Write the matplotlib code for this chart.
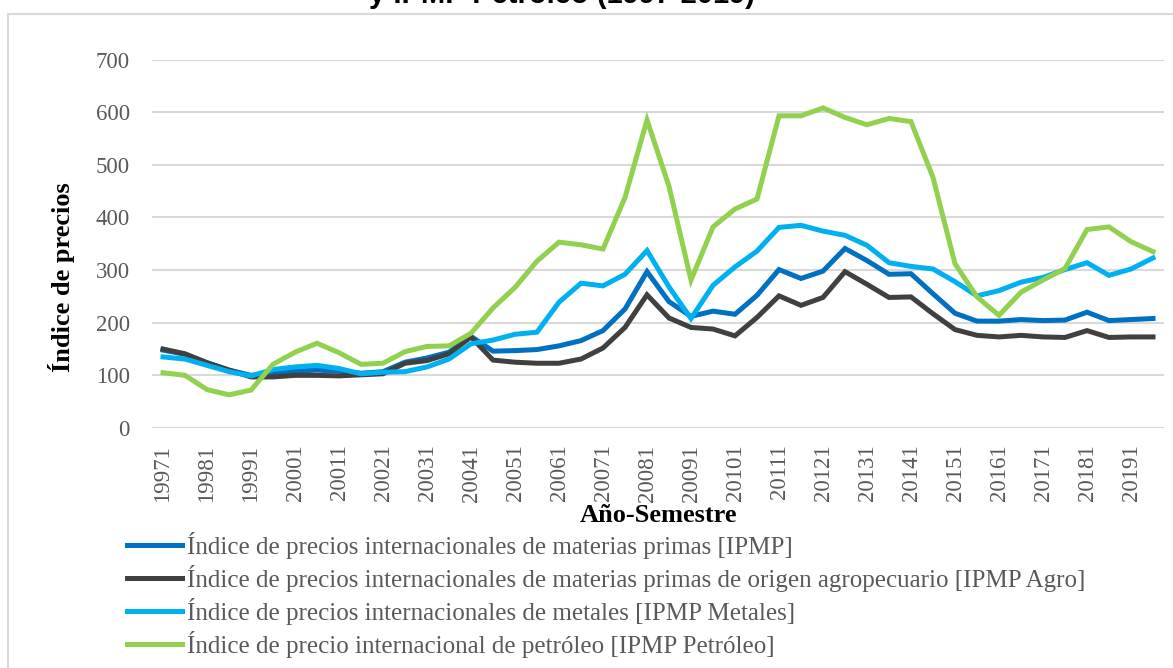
# -*- coding: utf-8 -*-
import numpy as np
import matplotlib.pyplot as plt
from matplotlib.patches import Rectangle

# semestres 1997-1 .. 2019-2
anios = list(range(1997, 2020))
periodos = [f"{a}{s}" for a in anios for s in (1, 2)]

ipmp = [148, 140, 124, 110, 100, 104, 108, 110, 108, 104, 107, 125, 133, 144, 174, 146,
        147, 149, 156, 166, 185, 226, 297, 240, 212, 222, 216, 252, 301, 284, 298, 341,
        318, 292, 293, 255, 218, 203, 203, 206, 204, 205, 220, 204, 206, 208]
ipmp_agro = [150, 141, 124, 110, 97, 97, 100, 100, 99, 101, 103, 123, 128, 141, 173, 129,
             125, 123, 123, 131, 152, 191, 253, 209, 191, 188, 175, 210, 251, 233, 248, 297,
             273, 248, 249, 217, 187, 176, 173, 176, 173, 172, 185, 172, 173, 173]
ipmp_metales = [135, 131, 119, 107, 99, 111, 116, 119, 113, 103, 106, 107, 116, 131, 160, 167,
                178, 182, 239, 275, 270, 292, 337, 268, 208, 271, 306, 336, 381, 385, 374, 366,
                347, 314, 307, 302, 278, 251, 261, 277, 286, 301, 314, 290, 302, 323]
ipmp_petroleo = [105, 100, 73, 63, 72, 121, 144, 161, 143, 121, 123, 145, 155, 156, 180, 228,
                 267, 317, 353, 348, 340, 438, 585, 459, 281, 382, 416, 435, 593, 593, 608, 590,
                 576, 588, 582, 476, 312, 249, 214, 258, 281, 303, 377, 382, 354, 335]

series = [ipmp, ipmp_agro, ipmp_metales, ipmp_petroleo]
nombres = ["Índice de precios internacionales de materias primas [IPMP]",
           "Índice de precios internacionales de materias primas de origen agropecuario [IPMP Agro]",
           "Índice de precios internacionales de metales [IPMP Metales]",
           "Índice de precio internacional de petróleo [IPMP Petróleo]"]
colores = ["#0070C0", "#404040", "#00B0F0", "#92D050"]

plt.rcParams['font.family'] = ['Liberation Serif', 'DejaVu Serif']

fig = plt.figure(figsize=(11.73, 6.68), dpi=100)
ax = fig.add_axes([152/1173, 1-428/668, 1012/1173, 368.5/668])

x = np.arange(len(periodos))
for datos, nombre, c in zip(series, nombres, colores):
    ax.plot(x, datos, color=c, lw=3.6, label=nombre, solid_joinstyle='miter')

ax.set_xlim(-0.5, len(periodos) - 0.5)
ax.set_ylim(0, 700)
ax.set_yticks(range(0, 701, 100))
ax.set_xticks(x[::2])
ax.set_xticklabels(periodos[::2], rotation=90)
ax.tick_params(axis='both', length=0, labelsize=16.5, labelcolor='#595959')
ax.tick_params(axis='x', pad=12)
ax.tick_params(axis='y', pad=16)

ax.grid(axis='y', color='#D9D9D9', lw=1.5)
ax.set_axisbelow(True)
for s in ax.spines.values():
    s.set_visible(False)

ax.set_xlabel("Año-Semestre", fontsize=19, fontweight='bold', labelpad=0)
ax.xaxis.set_label_coords(0.5, -0.205)
ax.set_ylabel("Índice de precios", fontsize=19, fontweight='bold')
ax.yaxis.set_label_coords(-0.076, 0.41)

fig.legend(loc='upper left', bbox_to_anchor=(127/1173, 1-532/668), frameon=False,
           fontsize=18, labelcolor='#595959', handlelength=2.2, handletextpad=0.2,
           labelspacing=0.24, borderaxespad=0, borderpad=0)

# borde del grafico y titulo cortado arriba
fig.patches.append(Rectangle((8/1173, -0.1), 1.2, 0.1 + 1-14/668, transform=fig.transFigure,
                             fill=False, edgecolor='#D9D9D9', lw=1.5))
fig.text(0.479, 1-3/668, "y IPMP Petróleo (1997-2019)", ha='center', va='baseline',
         fontsize=21, fontweight='bold', family='Liberation Sans')

fig.savefig("out.png", dpi=100)
